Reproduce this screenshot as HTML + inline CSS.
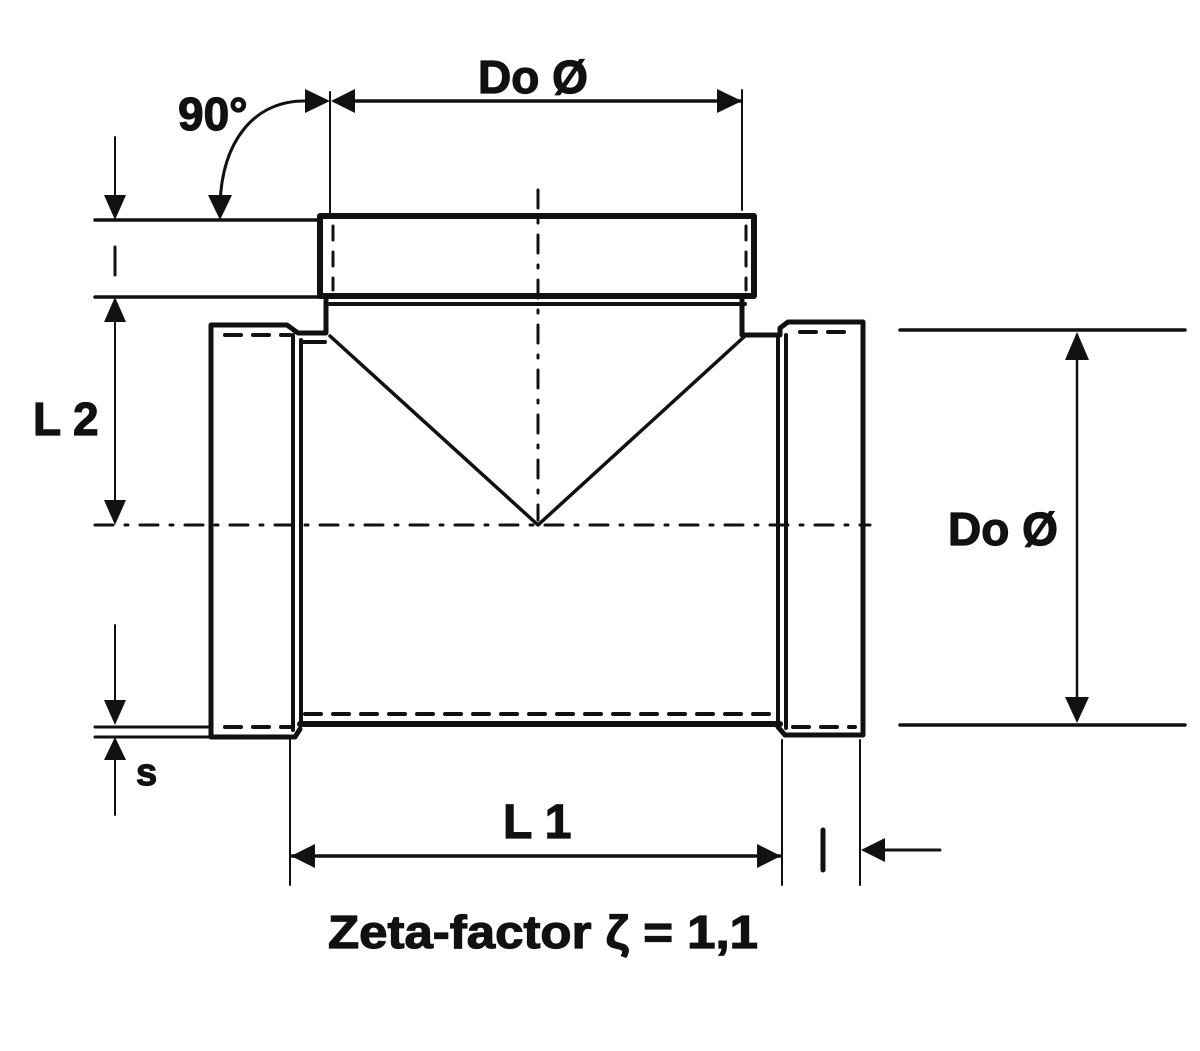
<!DOCTYPE html>
<html><head><style>
html,body{margin:0;padding:0;background:#fff;}
svg{display:block}
text{font-family:"Liberation Sans",sans-serif;font-weight:bold;fill:#111;stroke:#111;stroke-width:1.2}
</style></head><body>
<svg width="1200" height="1051" viewBox="0 0 1200 1051" xmlns="http://www.w3.org/2000/svg">
<g stroke="#111" fill="none" stroke-linecap="round" stroke-linejoin="round">
<rect x="320" y="216" width="434" height="80" stroke-width="6"/>
<line x1="330" y1="304" x2="745" y2="304" stroke-width="4"/>
<line x1="333" y1="226" x2="333" y2="290" stroke-width="3" stroke-dasharray="14,12"/>
<line x1="746" y1="226" x2="746" y2="290" stroke-width="3" stroke-dasharray="14,12"/>
<path d="M326 296 V333 H298 L287 325 H211 V737 H295 L300 729" stroke-width="5"/>
<path d="M742 300 V335 H780 V328 L788 322 H863 V735 H785 L778 727" stroke-width="5"/>
<line x1="293" y1="335" x2="293" y2="730" stroke-width="4"/>
<line x1="301" y1="340" x2="301" y2="722" stroke-width="4"/>
<line x1="778" y1="335" x2="778" y2="725" stroke-width="4"/>
<line x1="786" y1="335" x2="786" y2="728" stroke-width="4"/>
<line x1="300" y1="724" x2="780" y2="724" stroke-width="6"/>
<line x1="305" y1="714" x2="775" y2="714" stroke-width="4" stroke-dasharray="16,12"/>
<line x1="225" y1="727" x2="290" y2="727" stroke-width="4" stroke-dasharray="16,12"/>
<line x1="793" y1="727" x2="855" y2="727" stroke-width="4" stroke-dasharray="16,12"/>
<line x1="225" y1="335" x2="290" y2="335" stroke-width="4" stroke-dasharray="16,12"/>
<line x1="303" y1="342" x2="325" y2="342" stroke-width="4"/>
<line x1="800" y1="332" x2="855" y2="332" stroke-width="4" stroke-dasharray="16,12"/>
<path d="M330 336 L538 525 L745 336" stroke-width="3.5"/>
<line x1="95" y1="525" x2="870" y2="525" stroke-width="3" stroke-dasharray="18,12,3,12"/>
<line x1="538" y1="190" x2="538" y2="520" stroke-width="3" stroke-dasharray="18,12,3,12"/>
<line x1="95" y1="220" x2="320" y2="220" stroke-width="3.5"/>
<line x1="95" y1="297" x2="320" y2="297" stroke-width="3.5"/>
<line x1="115" y1="137" x2="115" y2="215" stroke-width="2"/>
<line x1="115" y1="247" x2="115" y2="275" stroke-width="3"/>
<line x1="115" y1="300" x2="115" y2="520" stroke-width="2"/>
<line x1="115" y1="625" x2="115" y2="722" stroke-width="2"/>
<line x1="95" y1="727" x2="210" y2="727" stroke-width="3"/>
<line x1="95" y1="737" x2="210" y2="737" stroke-width="3"/>
<line x1="115" y1="740" x2="115" y2="815" stroke-width="2"/>
<line x1="900" y1="330" x2="1185" y2="330" stroke-width="3.5"/>
<line x1="900" y1="725" x2="1185" y2="725" stroke-width="3.5"/>
<line x1="1077" y1="335" x2="1077" y2="720" stroke-width="2.5"/>
<line x1="330" y1="92" x2="330" y2="216" stroke-width="2"/>
<line x1="742" y1="90" x2="742" y2="210" stroke-width="2"/>
<line x1="335" y1="101" x2="740" y2="101" stroke-width="3.5"/>
<path d="M306 101 C255 100 222 140 220 205" stroke-width="3"/>
<line x1="290" y1="740" x2="290" y2="885" stroke-width="2"/>
<line x1="782" y1="740" x2="782" y2="885" stroke-width="2"/>
<line x1="860" y1="740" x2="860" y2="885" stroke-width="2"/>
<line x1="292" y1="856" x2="780" y2="856" stroke-width="3.5"/>
<line x1="823" y1="830" x2="823" y2="870" stroke-width="5"/>
<line x1="865" y1="850" x2="940" y2="850" stroke-width="3"/>
</g>
<g fill="#111">
<polygon points="104,195 126,195 115,220"/>
<polygon points="104,322 126,322 115,297"/>
<polygon points="104,500 126,500 115,525"/>
<polygon points="104,700 126,700 115,725"/>
<polygon points="104,760 126,760 115,737"/>
<polygon points="208,195 232,195 220,220"/>
<polygon points="1065,360 1089,360 1077,332"/>
<polygon points="1065,697 1089,697 1077,723"/>
<polygon points="305,89 305,113 330,101"/>
<polygon points="355,89 355,113 331,101"/>
<polygon points="717,89 717,113 742,101"/>
<polygon points="315,844 315,868 291,856"/>
<polygon points="757,844 757,868 781,856"/>
<polygon points="885,838 885,862 861,850"/>
</g>
<text x="478" y="93" font-size="46">Do Ø</text>
<text x="178" y="130" font-size="46">90°</text>
<text x="33" y="435" font-size="46">L 2</text>
<text x="948" y="545" font-size="46">Do Ø</text>
<text x="136" y="785" font-size="38">s</text>
<text x="503" y="838" font-size="48">L 1</text>
<text x="543" y="948" font-size="46" text-anchor="middle" textLength="430" lengthAdjust="spacingAndGlyphs">Zeta-factor ζ = 1,1</text>
</svg>
</body></html>
